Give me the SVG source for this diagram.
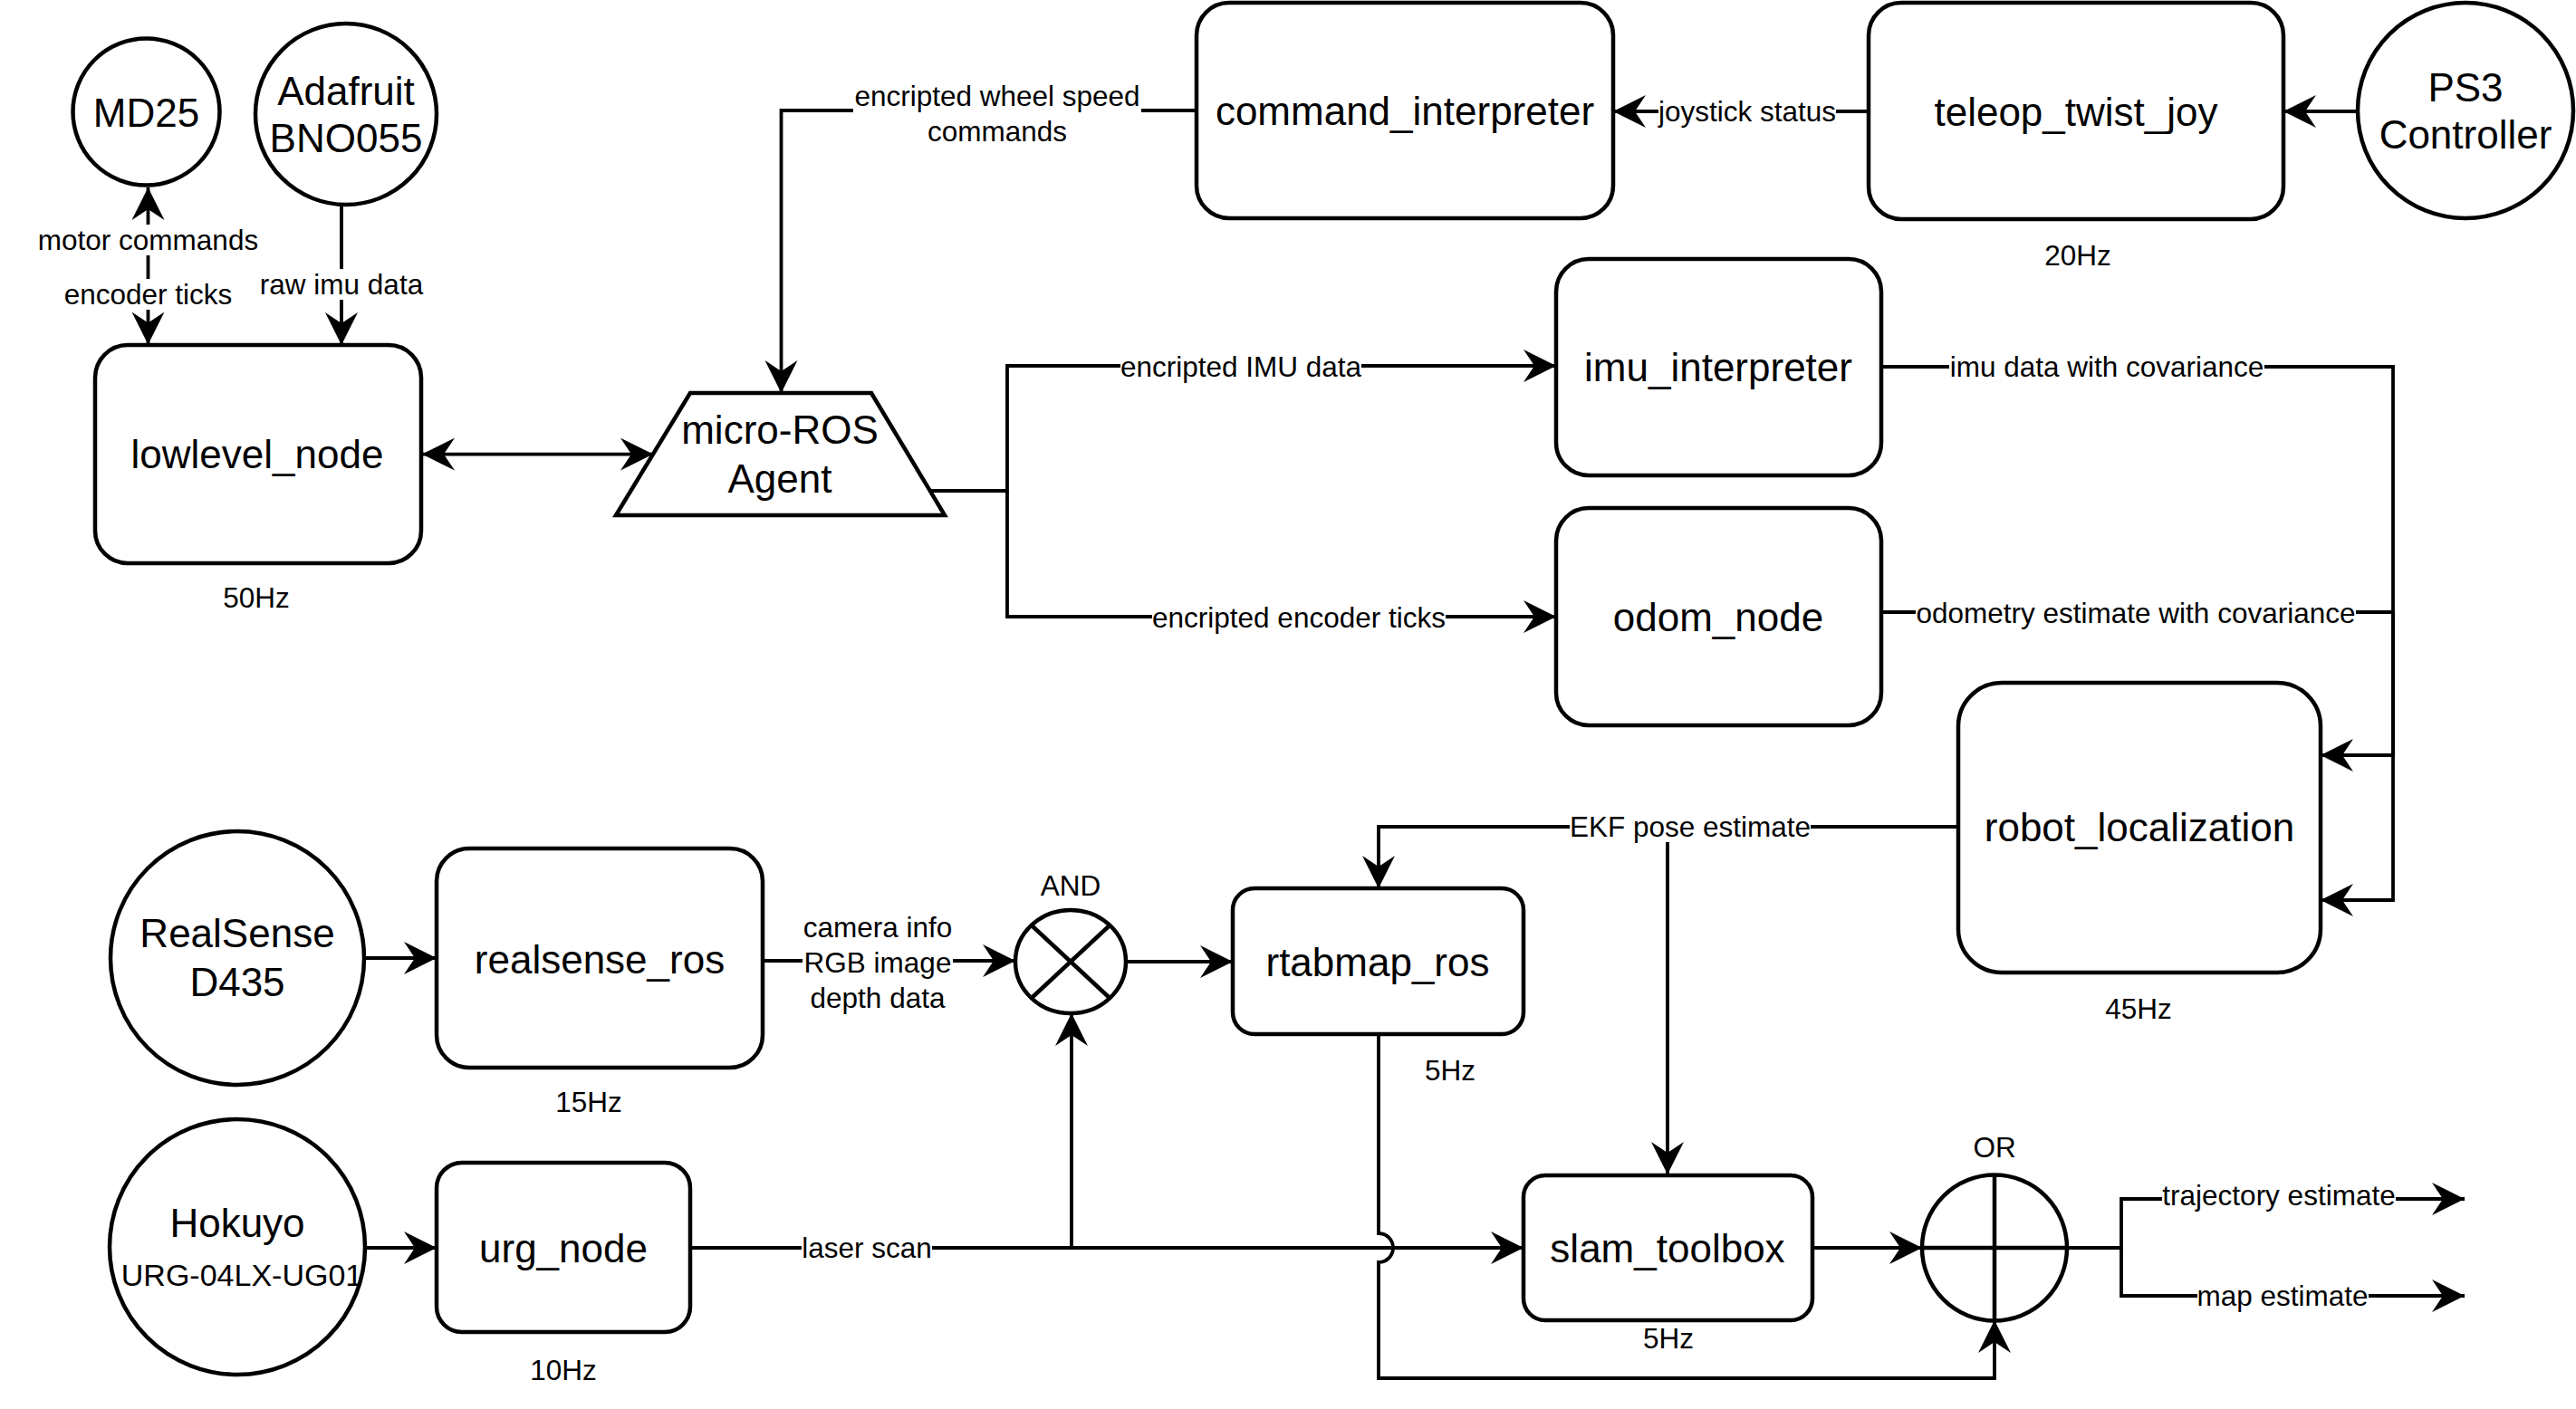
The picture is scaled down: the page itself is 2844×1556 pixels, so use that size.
<svg xmlns="http://www.w3.org/2000/svg" width="2844" height="1556" viewBox="0 0 2844 1556">
<style>
.node{fill:#fff;stroke:#000;stroke-width:4.5}
.inner{fill:none;stroke:#000;stroke-width:4.5}
.edge{fill:none;stroke:#000;stroke-width:3.8}
.a{marker-end:url(#arr)}
.aa{marker-start:url(#arr);marker-end:url(#arr)}
text{font-family:"Liberation Sans",Arial,sans-serif;text-anchor:middle;dominant-baseline:central;fill:#000}
.t{font-size:44px}
.l{font-size:31.5px}
.s{font-size:34px}
.bg{fill:#fff;stroke:none}
</style>
<defs>
<marker id="arr" markerUnits="userSpaceOnUse" markerWidth="36" markerHeight="36" viewBox="0 0 36 36" refX="36" refY="18" orient="auto-start-reverse">
<path d="M0,0 L36,18 L0,36 L12,18 Z" fill="#000"/>
</marker>
</defs>
<rect width="2844" height="1556" fill="#fff"/>

<g id="connectors">
<path class="edge aa" d="M163.5,207 V380.5"/>
<path class="edge a" d="M377,226 V381"/>
<path class="edge aa" d="M466,501.6 H721"/>
<path class="edge a" d="M1321,122 H862.5 V434"/>
<path class="edge a" d="M2063,123 H1781"/>
<path class="edge a" d="M2602,123 H2521"/>
<path class="edge a" d="M1027,542 H1112 V404 H1718"/>
<path class="edge a" d="M1112,542 V681 H1718"/>
<path class="edge a" d="M2077,405 H2642 V994 H2562"/>
<path class="edge a" d="M2077,676 H2642 V834 H2562"/>
<path class="edge a" d="M2162,913 H1522 V981"/>
<path class="edge a" d="M1841,930 V1297"/>
<path class="edge a" d="M402,1058 H482"/>
<path class="edge a" d="M842,1061 H1121"/>
<path class="edge a" d="M1243,1062 H1361"/>
<path class="edge a" d="M402,1378 H482"/>
<path class="edge a" d="M762,1378 H1682"/>
<path class="edge a" d="M1183,1378 V1119"/>
<path class="edge a" d="M2001,1378 H2122"/>
<path class="edge a" d="M1522,1142 V1362 A16,16 0 0 1 1522,1394 V1522 H2202 V1458"/>
<path class="edge a" d="M2282,1378 H2342 V1324 H2721"/>
<path class="edge a" d="M2342,1378 V1431 H2721"/>
</g>

<g id="edge-labels">
<rect class="bg" x="42" y="248" width="243" height="34"/>
<text class="l" x="163.5" y="265">motor commands</text>
<rect class="bg" x="70" y="308" width="187" height="34"/>
<text class="l" x="163.5" y="325">encoder ticks</text>
<rect class="bg" x="287" y="297" width="180" height="34"/>
<text class="l" x="377" y="314">raw imu data</text>
<rect class="bg" x="942" y="86" width="318" height="78"/>
<text class="l" x="1101" y="105.5">encripted wheel speed</text>
<text class="l" x="1101" y="145">commands</text>
<rect class="bg" x="1831" y="106" width="196" height="34"/>
<text class="l" x="1929" y="123">joystick status</text>
<rect class="bg" x="1237" y="388" width="266" height="34"/>
<text class="l" x="1370" y="405">encripted IMU data</text>
<rect class="bg" x="1272" y="665" width="324" height="34"/>
<text class="l" x="1434" y="682">encripted encoder ticks</text>
<rect class="bg" x="2152" y="388" width="348" height="34"/>
<text class="l" x="2326" y="405">imu data with covariance</text>
<rect class="bg" x="2115" y="660" width="486" height="34"/>
<text class="l" x="2358" y="677">odometry estimate with covariance</text>
<rect class="bg" x="1733" y="896" width="266" height="34"/>
<text class="l" x="1866" y="913">EKF pose estimate</text>
<rect class="bg" x="886" y="1005" width="166" height="115"/>
<text class="l" x="969" y="1024">camera info</text>
<text class="l" x="969" y="1063">RGB image</text>
<text class="l" x="969" y="1102">depth data</text>
<rect class="bg" x="885" y="1361" width="144" height="34"/>
<text class="l" x="957" y="1378">laser scan</text>
<rect class="bg" x="2387" y="1303" width="258" height="34"/>
<text class="l" x="2516" y="1320">trajectory estimate</text>
<rect class="bg" x="2426" y="1414" width="189" height="34"/>
<text class="l" x="2520" y="1431">map estimate</text>
</g>

<g id="MD25">
<circle class="node" cx="161.5" cy="123.5" r="81"/>
<text class="t" x="161.5" y="124">MD25</text>
</g>
<g id="Adafruit">
<circle class="node" cx="382" cy="126" r="100"/>
<text class="t" x="382" y="100">Adafruit</text>
<text class="t" x="382" y="152">BNO055</text>
</g>
<g id="lowlevel_node">
<rect class="node" x="105" y="381" width="360" height="241" rx="36"/>
<text class="t" x="284" y="501">lowlevel_node</text>
<text class="l" x="283" y="660">50Hz</text>
</g>
<g id="micro-ROS">
<polygon class="node" points="762,434 962,434 1043,569 680,569"/>
<text class="t" x="861" y="474">micro-ROS</text>
<text class="t" x="861" y="528">Agent</text>
</g>
<g id="command_interpreter">
<rect class="node" x="1321" y="3" width="460" height="238" rx="36"/>
<text class="t" x="1551" y="122">command_interpreter</text>
</g>
<g id="teleop_twist_joy">
<rect class="node" x="2063" y="3" width="458" height="239" rx="36"/>
<text class="t" x="2292" y="123">teleop_twist_joy</text>
<text class="l" x="2294" y="282">20Hz</text>
</g>
<g id="PS3">
<circle class="node" cx="2722" cy="122" r="119"/>
<text class="t" x="2722" y="96">PS3</text>
<text class="t" x="2722" y="148">Controller</text>
</g>
<g id="imu_interpreter">
<rect class="node" x="1718" y="286" width="359" height="239" rx="36"/>
<text class="t" x="1897" y="405">imu_interpreter</text>
</g>
<g id="odom_node">
<rect class="node" x="1718" y="561" width="359" height="240" rx="36"/>
<text class="t" x="1897" y="681">odom_node</text>
</g>
<g id="robot_localization">
<rect class="node" x="2162" y="754" width="400" height="320" rx="48"/>
<text class="t" x="2362" y="913">robot_localization</text>
<text class="l" x="2361" y="1114">45Hz</text>
</g>
<g id="RealSense">
<circle class="node" cx="262" cy="1058" r="140"/>
<text class="t" x="262" y="1030">RealSense</text>
<text class="t" x="262" y="1084">D435</text>
</g>
<g id="realsense_ros">
<rect class="node" x="482" y="937" width="360" height="242" rx="36"/>
<text class="t" x="662" y="1059">realsense_ros</text>
<text class="l" x="650" y="1217">15Hz</text>
</g>
<g id="Hokuyo">
<circle class="node" cx="262" cy="1377" r="141"/>
<text class="t" x="262" y="1350">Hokuyo</text>
<text class="s" x="267" y="1408">URG-04LX-UG01</text>
</g>
<g id="urg_node">
<rect class="node" x="482" y="1284" width="280" height="187" rx="28"/>
<text class="t" x="622" y="1378">urg_node</text>
<text class="l" x="622" y="1513">10Hz</text>
</g>
<g id="AND">
<ellipse class="node" cx="1182" cy="1062" rx="61" ry="57"/>
<path class="inner" d="M1139,1022 L1225,1102 M1225,1022 L1139,1102"/>
<text class="l" x="1182" y="978">AND</text>
</g>
<g id="rtabmap_ros">
<rect class="node" x="1361" y="981" width="321" height="161" rx="24"/>
<text class="t" x="1521" y="1062">rtabmap_ros</text>
<text class="l" x="1601" y="1182">5Hz</text>
</g>
<g id="slam_toolbox">
<rect class="node" x="1682" y="1298" width="319" height="160" rx="24"/>
<text class="t" x="1841" y="1378">slam_toolbox</text>
<text class="l" x="1842" y="1478">5Hz</text>
</g>
<g id="OR">
<ellipse class="node" cx="2202" cy="1378" rx="80" ry="80.5"/>
<path class="inner" d="M2202,1297.5 V1458.5 M2122,1378 H2282"/>
<text class="l" x="2202" y="1267">OR</text>
</g>
</svg>
